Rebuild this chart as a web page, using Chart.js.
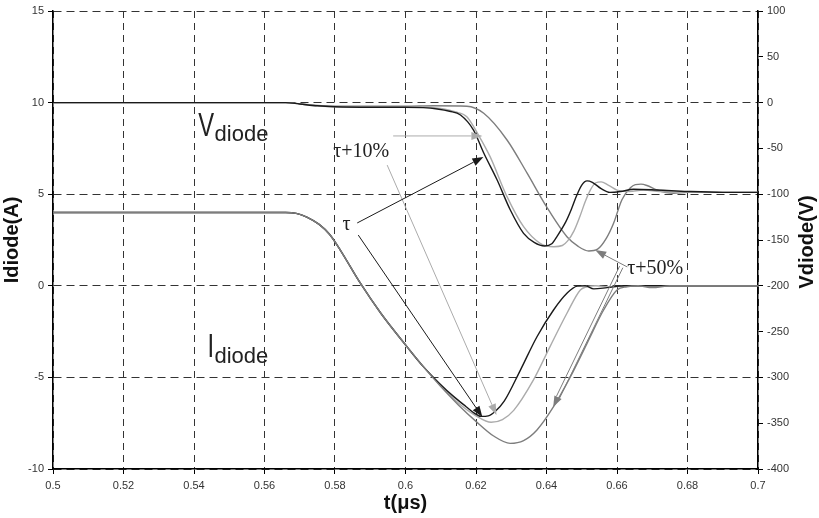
<!DOCTYPE html>
<html>
<head>
<meta charset="utf-8">
<script src="https://cdn.jsdelivr.net/npm/chart.js@4.4.1/dist/chart.umd.min.js"></script>
<style>
  html, body { margin: 0; padding: 0; background: #fff; }
  #wrap { width: 819px; height: 518px; position: relative; }
</style>
</head>
<body>
<div id="wrap"><canvas id="chart"></canvas></div>
<script>
// ── AXIS TICKS ──
const xTicks  = [0.5, 0.52, 0.54, 0.56, 0.58, 0.6, 0.62, 0.64, 0.66, 0.68, 0.7];
const yTicks  = [-10, -5, 0, 5, 10, 15];
const y2Ticks = [-400, -350, -300, -250, -200, -150, -100, -50, 0, 50, 100];

// ── VOLTAGE (right axis, V) ──
const vTauT   = [0.5, 0.56, 0.566, 0.57, 0.575, 0.58, 0.59, 0.6, 0.605, 0.609, 0.6125, 0.6156, 0.6193, 0.6222, 0.626, 0.6297, 0.6335, 0.6365, 0.6395, 0.6415, 0.643, 0.6455, 0.647, 0.6485, 0.65, 0.6515, 0.653, 0.6555, 0.658, 0.661, 0.6647, 0.6713, 0.68, 0.69, 0.7];
const vTau    = [0, 0, 0, -1.5, -3.5, -4.5, -5, -5, -5.5, -7, -9.5, -13.5, -30, -55, -84.5, -117, -142.7, -152.5, -156.5, -154, -146, -130, -117, -102, -90, -85.5, -87, -94, -98, -97, -94.6, -95.4, -97, -98, -98];
const vTau10T = [0.5, 0.56, 0.566, 0.57, 0.575, 0.58, 0.6, 0.606, 0.61, 0.614, 0.6174, 0.6207, 0.624, 0.6288, 0.6335, 0.6382, 0.642, 0.6445, 0.646, 0.6478, 0.6495, 0.651, 0.6525, 0.654, 0.6555, 0.6575, 0.66, 0.6635, 0.6675, 0.672, 0.68, 0.7];
const vTau10  = [0, 0, 0, -1.5, -3.5, -4.5, -4.5, -5, -6.5, -10, -15.4, -35.4, -59, -102.7, -135.5, -153.6, -157.3, -156, -151, -140, -124, -108, -95, -87.5, -86.5, -90, -95.5, -97, -95.4, -97, -98, -98];
const vTau50T = [0.5, 0.56, 0.566, 0.57, 0.575, 0.58, 0.6, 0.608, 0.6174, 0.6222, 0.6288, 0.6345, 0.64, 0.6458, 0.649, 0.652, 0.6545, 0.657, 0.659, 0.6614, 0.6638, 0.6652, 0.6668, 0.6685, 0.6713, 0.676, 0.68, 0.7];
const vTau50  = [0, 0, 0, -1.5, -3, -4, -4, -3.5, -4, -11.7, -40.8, -77, -113.6, -146.4, -157, -162, -160, -148, -132, -106, -93, -89.5, -89, -90.5, -95.4, -99, -98, -98];

// ── CURRENT (left axis, A) ──
const iCommonT = [0.5, 0.566, 0.569, 0.572, 0.5755, 0.5785, 0.5815, 0.5872, 0.593, 0.6004, 0.605];
const iCommon  = [4, 4, 3.95, 3.75, 3.35, 2.8, 1.95, 0.14, -1.5, -3.32, -4.4];
const iTauT    = [0.6095, 0.6137, 0.6172, 0.6195, 0.6215, 0.6235, 0.6255, 0.628, 0.6326, 0.6373, 0.642, 0.6458, 0.6487, 0.651, 0.6534, 0.6572, 0.662, 0.68, 0.7];
const iTau     = [-5.3, -6.05, -6.6, -6.95, -7.13, -7.1, -6.85, -6.3, -4.6, -2.78, -1.32, -0.41, -0.02, 0, -0.17, -0.1, 0, 0, 0];
const iTau10T  = [0.61, 0.615, 0.62, 0.6243, 0.6275, 0.6307, 0.6363, 0.641, 0.6458, 0.6496, 0.6515, 0.654, 0.658, 0.665, 0.7];
const iTau10   = [-5.45, -6.4, -7.1, -7.45, -7.3, -6.8, -5.14, -3.32, -1.5, -0.23, -0.05, 0, -0.06, 0, 0];
const iTau50T  = [0.61, 0.615, 0.62, 0.625, 0.6297, 0.6335, 0.6373, 0.642, 0.6468, 0.6515, 0.6562, 0.66, 0.6628, 0.666, 0.67, 0.675, 0.7];
const iTau50   = [-5.5, -6.5, -7.4, -8.2, -8.6, -8.45, -7.87, -6.6, -4.96, -3.14, -1.32, -0.23, -0.05, 0, -0.1, 0, 0];

const BLACK = '#1a1a1a';
const LIGHT = '#ababab';
const MID   = '#7d7d7d';

function pts(ts, vs) {
    return ts.map((t, i) => ({ x: t, y: vs[i] }));
}

function series(label, ts, vs, color, axis, order) {
    return {
        label: label,
        data: pts(ts, vs),
        yAxisID: axis,
        borderColor: color,
        borderWidth: 1.4,
        pointRadius: 0,
        showLine: true,
        fill: false,
        cubicInterpolationMode: 'monotone',
        order: order
    };
}

// ── ANNOTATIONS (data coords on the left axis) ──
function arrow(ctx, x1, y1, x2, y2, color, double) {
    const a = Math.atan2(y2 - y1, x2 - x1);
    const hl = 11, hw = 4;
    const bx = x2 - hl * Math.cos(a), by = y2 - hl * Math.sin(a);
    ctx.strokeStyle = color;
    ctx.fillStyle = color;
    ctx.lineWidth = 1;
    if (double) {
        const nx = -Math.sin(a) * 1.8, ny = Math.cos(a) * 1.8;
        [1, -1].forEach(s => {
            ctx.beginPath();
            ctx.moveTo(x1 + s * nx, y1 + s * ny);
            ctx.lineTo(bx + s * nx, by + s * ny);
            ctx.stroke();
        });
    } else {
        ctx.beginPath();
        ctx.moveTo(x1, y1);
        ctx.lineTo(bx, by);
        ctx.stroke();
    }
    ctx.beginPath();
    ctx.moveTo(x2, y2);
    ctx.lineTo(bx - hw * Math.sin(a), by + hw * Math.cos(a));
    ctx.lineTo(bx + hw * Math.sin(a), by - hw * Math.cos(a));
    ctx.closePath();
    ctx.fill();
}

const labelPlugin = {
    id: 'labels',
    afterDraw(chart) {
        const ctx = chart.ctx;
        const sx = chart.scales.x, sy = chart.scales.y;
        const P = (t, v) => [sx.getPixelForValue(t), sy.getPixelForValue(v)];
        ctx.save();

        // arrows
        const arrows = [
            [0.5965, 8.18, 0.6218, 8.18, LIGHT, false],
            [0.5948, 6.59, 0.6258, -7.05, LIGHT, false],
            [0.5863, 3.43, 0.6221, 7.03, BLACK, false],
            [0.5866, 2.77, 0.6218, -7.16, BLACK, false],
            [0.6629, 1.03, 0.6538, 1.95, MID, false],
            [0.6612, 1.03, 0.6419, -6.62, MID, true]
        ];
        arrows.forEach(a => {
            const p1 = P(a[0], a[1]), p2 = P(a[2], a[3]);
            arrow(ctx, p1[0], p1[1], p2[0], p2[1], a[4], a[5]);
        });

        // tau labels
        ctx.fillStyle = '#222';
        ctx.textBaseline = 'alphabetic';
        ctx.textAlign = 'left';
        ctx.font = '20px "Liberation Serif", "DejaVu Serif", serif';
        let p = P(0.5795, 7.03); ctx.fillText('τ+10%', p[0], p[1]);
        p = P(0.5821, 3.05);     ctx.fillText('τ', p[0], p[1]);
        p = P(0.6629, 0.64);     ctx.fillText('τ+50%', p[0], p[1]);

        // V_diode / I_diode
        const sub = (big, t, v) => {
            const q = P(t, v);
            ctx.save();
            ctx.translate(q[0], q[1]);
            ctx.scale(0.72, 1);
            ctx.font = '33px "Liberation Sans", Arial, sans-serif';
            ctx.fillText(big, 0, 0);
            const w = ctx.measureText(big).width * 0.72;
            ctx.restore();
            ctx.font = '22px "Liberation Sans", Arial, sans-serif';
            ctx.fillText('diode', q[0] + w + 0.5, q[1] + 5.5);
        };
        sub('V', 0.5412, 8.18);
        sub('I', 0.5438, -3.89);

        // axis titles
        ctx.fillStyle = '#111';
        ctx.font = 'bold 20px "Liberation Sans", Arial, sans-serif';
        ctx.textAlign = 'center';
        ctx.textBaseline = 'middle';
        ctx.fillText('t(μs)', (chart.chartArea.left + chart.chartArea.right) / 2, 503);
        ctx.save();
        ctx.translate(12, 240);
        ctx.rotate(-Math.PI / 2);
        ctx.fillText('Idiode(A)', 0, 0);
        ctx.restore();
        ctx.save();
        ctx.translate(807, 242);
        ctx.rotate(-Math.PI / 2);
        ctx.fillText('Vdiode(V)', 0, 0);
        ctx.restore();

        ctx.restore();
    }
};

const tickFont = { family: '"Liberation Sans", Arial, sans-serif', size: 11 };

new Chart(document.getElementById('chart'), {
    type: 'scatter',
    data: {
        datasets: [
            series('V τ', vTauT, vTau, BLACK, 'y2', 1),
            series('V τ+10%', vTau10T, vTau10, LIGHT, 'y2', 2),
            series('V τ+50%', vTau50T, vTau50, MID, 'y2', 3),
            series('I τ', iCommonT.concat(iTauT), iCommon.concat(iTau), BLACK, 'y', 4),
            series('I τ+10%', iCommonT.concat(iTau10T), iCommon.concat(iTau10), LIGHT, 'y', 5),
            series('I τ+50%', iCommonT.concat(iTau50T), iCommon.concat(iTau50), MID, 'y', 0)
        ]
    },
    options: {
        responsive: true,
        maintainAspectRatio: false,
        animation: false,
        layout: { padding: { top: 11, left: 0, right: 0, bottom: 0 } },
        plugins: { legend: { display: false }, tooltip: { enabled: false } },
        scales: {
            x: {
                type: 'linear', min: 0.5, max: 0.7,
                afterBuildTicks: s => { s.ticks = xTicks.map(v => ({ value: v })); },
                afterFit: s => { s.height = 49; },
                ticks: { font: tickFont, color: '#333', padding: 5, maxRotation: 0, autoSkip: false,
                         callback: v => String(v) },
                grid: { color: '#333', lineWidth: 1, tickLength: 5, tickColor: '#000' },
                border: { display: true, color: '#000', width: 1.5, dash: [7, 5] }
            },
            y: {
                position: 'left', min: -10, max: 15,
                afterBuildTicks: s => { s.ticks = yTicks.map(v => ({ value: v })); },
                afterFit: s => { s.width = 53; },
                ticks: { font: tickFont, color: '#333', padding: 4 },
                grid: { color: '#333', lineWidth: 1, tickLength: 5, tickColor: '#000' },
                border: { display: true, color: '#000', width: 1.5, dash: [8, 5] }
            },
            y2: {
                position: 'right', min: -400, max: 100,
                afterBuildTicks: s => { s.ticks = y2Ticks.map(v => ({ value: v })); },
                afterFit: s => { s.width = 61; },
                ticks: { font: tickFont, color: '#333', padding: 4 },
                grid: { drawOnChartArea: false, tickLength: 5, tickColor: '#000' },
                border: { display: true, color: '#000', width: 1.5 }
            }
        }
    },
    plugins: [labelPlugin]
});
</script>
</body>
</html>
